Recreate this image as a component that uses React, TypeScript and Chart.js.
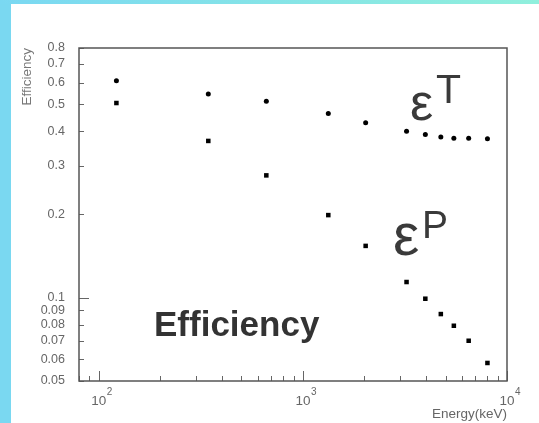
import React, { useEffect, useRef } from "react";
import { Chart, registerables } from "chart.js";

Chart.register(...registerables);

// Gamma energies (keV)
const energies = [122, 344, 662, 1332, 2030, 3220, 3980, 4740, 5490, 6490, 8020];
// Total efficiency (circles)
const effTotal = [0.609, 0.545, 0.513, 0.464, 0.429, 0.4, 0.389, 0.381, 0.377, 0.377, 0.376];
// Photopeak efficiency (squares)
const effPeak = [0.506, 0.369, 0.277, 0.199, 0.154, 0.114, 0.0992, 0.0873, 0.0792, 0.0699, 0.0581];

const xDecadeLabels = [100, 1000, 10000];
const xRange = [80, 10000];
const yRange = [0.05, 0.8];

const FONT = '"Liberation Sans", Arial, Helvetica, sans-serif';

function isDecade(v: number) {
  const l = Math.log10(v);
  return Math.abs(l - Math.round(l)) < 1e-6;
}

function isIntegerSignificand(v: number) {
  const e = Math.floor(Math.log10(v) + 1e-9);
  const m = v / Math.pow(10, e);
  return Math.abs(m - Math.round(m)) < 1e-6;
}

const keepIntegerTicks = (s: any) => {
  s.ticks = s.ticks.filter((t: any) => isIntegerSignificand(t.value));
};

const framePlugin = {
  id: "frame",
  afterDraw(chart: any) {
    const { ctx, chartArea: a, scales } = chart;
    const xs = scales.x;
    const ys = scales.y;
    ctx.save();
    // inward tick marks
    ctx.strokeStyle = "#666";
    ctx.lineWidth = 1;
    ctx.beginPath();
    ys.ticks.forEach((t: any) => {
      const py = Math.round(ys.getPixelForValue(t.value)) + 0.5;
      const len = isDecade(t.value) ? 10 : 5;
      ctx.moveTo(a.left, py);
      ctx.lineTo(a.left + len, py);
    });
    xs.ticks.forEach((t: any) => {
      const px = Math.round(xs.getPixelForValue(t.value)) + 0.5;
      const len = isDecade(t.value) ? 10 : 5;
      ctx.moveTo(px, a.bottom);
      ctx.lineTo(px, a.bottom - len);
    });
    ctx.stroke();
    // frame
    ctx.strokeStyle = "#555";
    ctx.lineWidth = 1.5;
    ctx.strokeRect(a.left, a.top, a.right - a.left, a.bottom - a.top);

    // x decade labels with superscript exponents
    ctx.fillStyle = "#666";
    ctx.textBaseline = "alphabetic";
    xDecadeLabels.forEach((v) => {
      const px = xs.getPixelForValue(v);
      ctx.font = `13.5px ${FONT}`;
      ctx.textAlign = "center";
      ctx.fillText("10", px, a.bottom + 24);
      const w = ctx.measureText("10").width;
      ctx.font = `10px ${FONT}`;
      ctx.textAlign = "left";
      ctx.fillText(String(Math.round(Math.log10(v))), px + w / 2 + 0.5, a.bottom + 14);
    });

    // annotations
    ctx.fillStyle = "#3a3a3a";
    ctx.textAlign = "left";
    ctx.font = `52px ${FONT}`;
    ctx.fillText("ε", 410, 120);
    ctx.font = `41px ${FONT}`;
    ctx.fillText("T", 436, 103);
    ctx.font = `59px ${FONT}`;
    ctx.fillText("ε", 393, 255);
    ctx.font = `39px ${FONT}`;
    ctx.fillText("P", 422, 238);
    ctx.fillStyle = "#333";
    ctx.font = `bold 35px ${FONT}`;
    ctx.fillText("Efficiency", 154, 336);
    ctx.restore();
  },
};

export default function App() {
  const ref = useRef<HTMLCanvasElement | null>(null);

  useEffect(() => {
    document.body.style.margin = "0";
    const canvas = ref.current;
    if (!canvas) return;
    const chart = new Chart(canvas, {
      type: "scatter",
      data: {
        datasets: [
          {
            label: "Total",
            data: energies.map((e, i) => ({ x: e, y: effTotal[i] })),
            pointStyle: "circle",
            pointRadius: 2.5,
            pointBorderWidth: 0,
            backgroundColor: "#000",
            borderColor: "#000",
            showLine: false,
          },
          {
            label: "Peak",
            data: energies.map((e, i) => ({ x: e, y: effPeak[i] })),
            pointStyle: "rect",
            pointRadius: 3.2,
            pointBorderWidth: 0,
            backgroundColor: "#000",
            borderColor: "#000",
            showLine: false,
          },
        ],
      },
      options: {
        animation: false,
        responsive: false,
        devicePixelRatio: 1,
        layout: { padding: { left: 0, top: 48, right: 32, bottom: 0 } },
        plugins: {
          legend: { display: false },
          tooltip: { enabled: false },
        },
        scales: {
          x: {
            type: "logarithmic",
            min: xRange[0],
            max: xRange[1],
            position: "bottom",
            grid: { display: false, drawTicks: false },
            border: { display: false },
            ticks: { display: false, autoSkip: false },
            title: {
              display: true,
              text: "Energy(keV)",
              align: "end",
              color: "#666",
              font: { family: FONT, size: 13.5 },
              padding: { top: 0, bottom: 1 },
            },
            afterBuildTicks: keepIntegerTicks,
            afterFit: (s: any) => {
              s.height = 42;
            },
          },
          y: {
            type: "logarithmic",
            min: yRange[0],
            max: yRange[1],
            position: "left",
            grid: { display: false, drawTicks: false },
            border: { display: false },
            ticks: {
              autoSkip: false,
              padding: 14,
              color: "#666",
              font: { family: FONT, size: 12.5 },
              callback: (v: any) => String(Number(Number(v).toPrecision(2))),
            },
            title: {
              display: true,
              text: "Efficiency",
              align: "end",
              color: "#777",
              font: { family: FONT, size: 13.5 },
              padding: { top: 19.5, bottom: 0 },
            },
            afterBuildTicks: keepIntegerTicks,
            afterFit: (s: any) => {
              s.width = 79;
            },
          },
        },
      },
      plugins: [framePlugin],
    } as any);
    return () => chart.destroy();
  }, []);

  return (
    <div style={{ position: "relative", width: 539, height: 423, background: "#fff", overflow: "hidden" }}>
      <div style={{ position: "absolute", left: 0, top: 0, width: 11, height: 423, background: "#7ad8f1" }} />
      <div
        style={{
          position: "absolute",
          left: 0,
          top: 0,
          width: 539,
          height: 4,
          background: "linear-gradient(to right, #7ad8f2, #90efdc)",
        }}
      />
      <canvas
        ref={ref}
        width={539}
        height={423}
        style={{ position: "absolute", left: 0, top: 0, width: 539, height: 423, display: "block" }}
      />
    </div>
  );
}
